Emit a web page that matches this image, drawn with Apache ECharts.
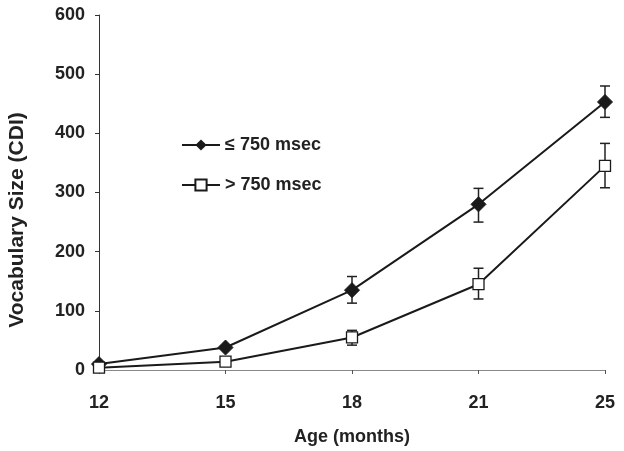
<!DOCTYPE html>
<html>
<head>
<meta charset="utf-8">
<script src="https://cdn.jsdelivr.net/npm/echarts@6/dist/echarts.min.js"></script>
<style>html,body{margin:0;padding:0;background:#fff}#c{width:624px;height:451px}</style>
</head>
<body>
<div id="c"></div>
<script>
var ages = ['12', '15', '18', '21', '25'];
var fastName = '\u2264 750 msec';
var slowName = '> 750 msec';
var fastValues = [10, 38, 135, 280, 453];
var fastLow = [null, null, 113, 250, 427];
var fastHigh = [null, null, 158, 307, 480];
var slowValues = [4, 14, 55, 145, 345];
var slowLow = [null, null, 42, 120, 308];
var slowHigh = [null, null, 67, 172, 383];
var yTicks = [0, 100, 200, 300, 400, 500, 600];
var yTitle = 'Vocabulary Size (CDI)';
var xTitle = 'Age (months)';

function errData(lo, hi) {
  var out = [];
  for (var i = 0; i < ages.length; i++) {
    if (lo[i] != null) out.push([i, lo[i], hi[i]]);
  }
  return out;
}
function errRender(params, api) {
  var x = api.value(0);
  var a = api.coord([x, api.value(1)]);
  var b = api.coord([x, api.value(2)]);
  var w = 5;
  var st = {stroke: '#222', lineWidth: 1.5};
  return {type: 'group', children: [
    {type: 'line', shape: {x1: a[0], y1: a[1], x2: b[0], y2: b[1]}, style: st},
    {type: 'line', shape: {x1: a[0]-w, y1: a[1], x2: a[0]+w, y2: a[1]}, style: st},
    {type: 'line', shape: {x1: b[0]-w, y1: b[1], x2: b[0]+w, y2: b[1]}, style: st}
  ]};
}
var font = 'Liberation Sans, Arial, sans-serif';
var chart = echarts.init(document.getElementById('c'), null, {renderer: 'canvas'});
chart.setOption({
  animation: false,
  backgroundColor: '#fff',
  grid: {left: 99, right: 19, top: 15, bottom: 81},
  graphic: [{
    type: 'text', x: 17, y: 220, rotation: Math.PI / 2,
    style: {text: yTitle, fontFamily: font, fontWeight: 'bold', fontSize: 21, fill: '#222',
            textAlign: 'center', textVerticalAlign: 'middle'}
  }],
  legend: {
    orient: 'vertical', left: 176, top: 131, itemGap: 22,
    itemWidth: 38, itemHeight: 14,
    textStyle: {fontFamily: font, fontWeight: 'bold', fontSize: 18, color: '#222'},
    data: [fastName, slowName]
  },
  xAxis: {
    type: 'category', data: ages, boundaryGap: false,
    name: xTitle, nameLocation: 'middle', nameGap: 58,
    nameTextStyle: {fontFamily: font, fontWeight: 'bold', fontSize: 18, color: '#222'},
    axisLine: {lineStyle: {color: '#888', width: 1}},
    axisTick: {show: true, length: 4, alignWithLabel: true, lineStyle: {color: '#555'}},
    axisLabel: {fontFamily: font, fontWeight: 'bold', fontSize: 18, color: '#222', margin: 24},
    splitLine: {show: false}
  },
  yAxis: {
    type: 'value', min: yTicks[0], max: yTicks[yTicks.length-1], interval: 100,
    axisLine: {show: true, lineStyle: {color: '#333', width: 1}},
    axisTick: {show: true, length: 4, lineStyle: {color: '#333'}},
    axisLabel: {fontFamily: font, fontWeight: 'bold', fontSize: 18, color: '#222', margin: 14},
    splitLine: {show: false}
  },
  series: [
    {type: 'custom', name: 'errFast', renderItem: errRender, data: errData(fastLow, fastHigh), z: 1, silent: true},
    {type: 'custom', name: 'errSlow', renderItem: errRender, data: errData(slowLow, slowHigh), z: 1, silent: true},
    {type: 'line', name: fastName, data: fastValues, symbol: 'diamond', symbolSize: 15,
     lineStyle: {color: '#1a1a1a', width: 2}, itemStyle: {color: '#1a1a1a', borderColor: '#1a1a1a'}, z: 3},
    {type: 'line', name: slowName, data: slowValues, symbol: 'rect', symbolSize: 11,
     lineStyle: {color: '#1a1a1a', width: 2}, itemStyle: {color: '#fff', borderColor: '#1a1a1a', borderWidth: 1.3}, z: 3}
  ]
});
</script>
</body>
</html>
